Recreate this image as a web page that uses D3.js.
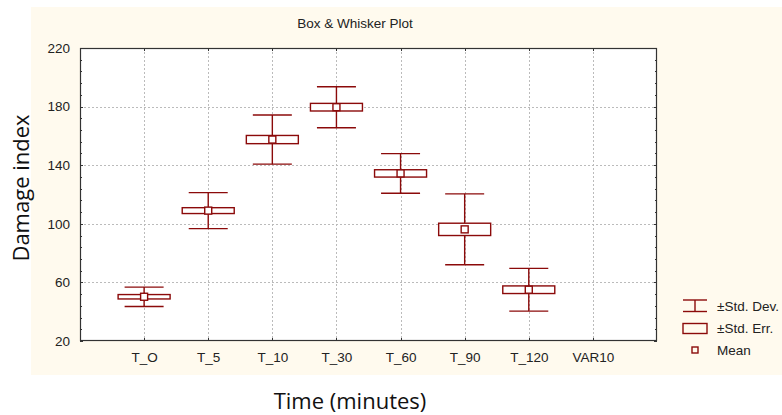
<!DOCTYPE html>
<html><head><meta charset="utf-8">
<script src="https://cdn.jsdelivr.net/npm/d3@7"></script>
<style>body{margin:0;background:#fff}svg{display:block}</style>
</head><body>
<svg id="c" width="782" height="415"></svg>
<script>
const categories = ["T_O","T_5","T_10","T_30","T_60","T_90","T_120","VAR10"];
const means = [50.2, 109.0, 157.5, 179.6, 134.4, 96.2, 55.0, null];
const stdDev = [6.6, 12.3, 16.8, 14.0, 13.5, 24.2, 14.6, null];
const stdErr = [1.5, 2.0, 2.8, 2.6, 2.5, 4.2, 2.6, null];
const yTicks = [20, 60, 100, 140, 180, 220];

const svg = d3.select("#c");
const red = "#8b0a0a";
const L = 80, R = 657, T = 48, B = 341;
svg.append("rect").attr("x",31).attr("y",7).attr("width",751).attr("height",368).attr("fill","#fffaee");
svg.append("rect").attr("x",L).attr("y",T).attr("width",R-L).attr("height",B-T).attr("fill","#fff");

const x = d3.scaleLinear().domain([0, 9]).range([L, R]);
const y = d3.scaleLinear().domain([20, 220]).range([B, T]);

// grid
const grid = svg.append("g").attr("stroke","#bbb").attr("stroke-width",1).attr("stroke-dasharray","2,2");
categories.forEach((c,i)=>{
  grid.append("line").attr("x1",Math.round(x(i+1))+0.5).attr("x2",Math.round(x(i+1))+0.5).attr("y1",T).attr("y2",B);
});
yTicks.slice(1,-1).forEach(v=>{
  grid.append("line").attr("x1",L).attr("x2",R).attr("y1",Math.round(y(v))+0.5).attr("y2",Math.round(y(v))+0.5);
});

// minor ticks
const minor = d3.range(20, 221, 8);
const tk = svg.append("g").attr("stroke","#333").attr("stroke-width",1);
minor.forEach(v=>{
  const yy = Math.round(y(v))+0.5;
  const len = (v-20)%40===0 ? 3 : 2;
  tk.append("line").attr("x1",L).attr("x2",L+len).attr("y1",yy).attr("y2",yy);
  tk.append("line").attr("x1",R-len).attr("x2",R).attr("y1",yy).attr("y2",yy);
});
categories.forEach((c,i)=>{
  const xx = Math.round(x(i+1))+0.5;
  tk.append("line").attr("x1",xx).attr("x2",xx).attr("y1",T).attr("y2",T+3);
  tk.append("line").attr("x1",xx).attr("x2",xx).attr("y1",B-3).attr("y2",B);
});

// border
svg.append("rect").attr("x",L+0.5).attr("y",T+0.5).attr("width",R-L-1).attr("height",B-T-1)
  .attr("fill","none").attr("stroke","#333").attr("stroke-width",1.2);

// axes
const ya = d3.axisLeft(y).tickValues(yTicks).tickSize(0).tickPadding(10);
const gy = svg.append("g").attr("transform",`translate(${L},0)`).call(ya);
gy.select(".domain").remove();
gy.selectAll("text").attr("font-family","Liberation Sans, Arial").attr("font-size",13.5).attr("fill","#222");

const xa = d3.axisBottom(x).tickValues(categories.map((c,i)=>i+1)).tickFormat((d)=>categories[d-1]).tickSize(0).tickPadding(11);
const gx = svg.append("g").attr("transform",`translate(0,${B})`).call(xa);
gx.select(".domain").remove();
gx.selectAll("text").attr("font-family","Liberation Sans, Arial").attr("font-size",13.5).attr("fill","#222");

// boxes
const boxW = 26, capW = 19.5, mS = 3.5;
const g = svg.append("g").attr("stroke",red).attr("stroke-width",1.4).attr("fill","none");
categories.forEach((c,i)=>{
  if (means[i]==null) return;
  const cx = x(i+1);
  const m = means[i], sd = stdDev[i], se = stdErr[i];
  g.append("line").attr("x1",cx).attr("x2",cx).attr("y1",y(m+sd)).attr("y2",y(m+se));
  g.append("line").attr("x1",cx).attr("x2",cx).attr("y1",y(m-se)).attr("y2",y(m-sd));
  g.append("line").attr("x1",cx-capW).attr("x2",cx+capW).attr("y1",y(m+sd)).attr("y2",y(m+sd));
  g.append("line").attr("x1",cx-capW).attr("x2",cx+capW).attr("y1",y(m-sd)).attr("y2",y(m-sd));
  g.append("rect").attr("x",cx-boxW).attr("y",y(m+se)).attr("width",2*boxW).attr("height",y(m-se)-y(m+se)).attr("fill","#fff");
  g.append("rect").attr("x",cx-mS).attr("y",y(m)-mS).attr("width",2*mS).attr("height",2*mS).attr("fill","#fff");
});

// title
svg.append("text").attr("x",355).attr("y",28).attr("text-anchor","middle")
  .attr("font-family","Liberation Sans, Arial").attr("font-size",13.5).attr("fill","#222").text("Box & Whisker Plot");

// axis titles
svg.append("text").attr("x",350).attr("y",409).attr("text-anchor","middle")
  .attr("font-family","Open Sans").attr("font-weight",400).attr("font-size",22).attr("fill","#111").text("Time (minutes)");
svg.append("text").attr("transform","translate(28.5,188) rotate(-90)").attr("text-anchor","middle")
  .attr("font-family","Open Sans").attr("font-weight",400).attr("font-size",22).attr("fill","#111").text("Damage index");

// legend
const lg = svg.append("g");
const lf = {"font-family":"Liberation Sans, Arial","font-size":13.5,"fill":"#222"};
const lgl = lg.append("g").attr("stroke",red).attr("stroke-width",1.4).attr("fill","none");
lgl.append("line").attr("x1",683).attr("x2",707).attr("y1",300).attr("y2",300);
lgl.append("line").attr("x1",683).attr("x2",707).attr("y1",311.5).attr("y2",311.5);
lgl.append("line").attr("x1",695).attr("x2",695).attr("y1",300).attr("y2",311.5);
lgl.append("rect").attr("x",683).attr("y",323.5).attr("width",24).attr("height",10);
lgl.append("rect").attr("x",692).attr("y",347).attr("width",6).attr("height",6);
const labels = [["±Std. Dev.",311],["±Std. Err.",333],["Mean",355]];
labels.forEach(([t,yy])=>{
  const tx = lg.append("text").attr("x",717).attr("y",yy).text(t);
  Object.entries(lf).forEach(([k,v])=>tx.attr(k,v));
});
</script>
</body></html>
